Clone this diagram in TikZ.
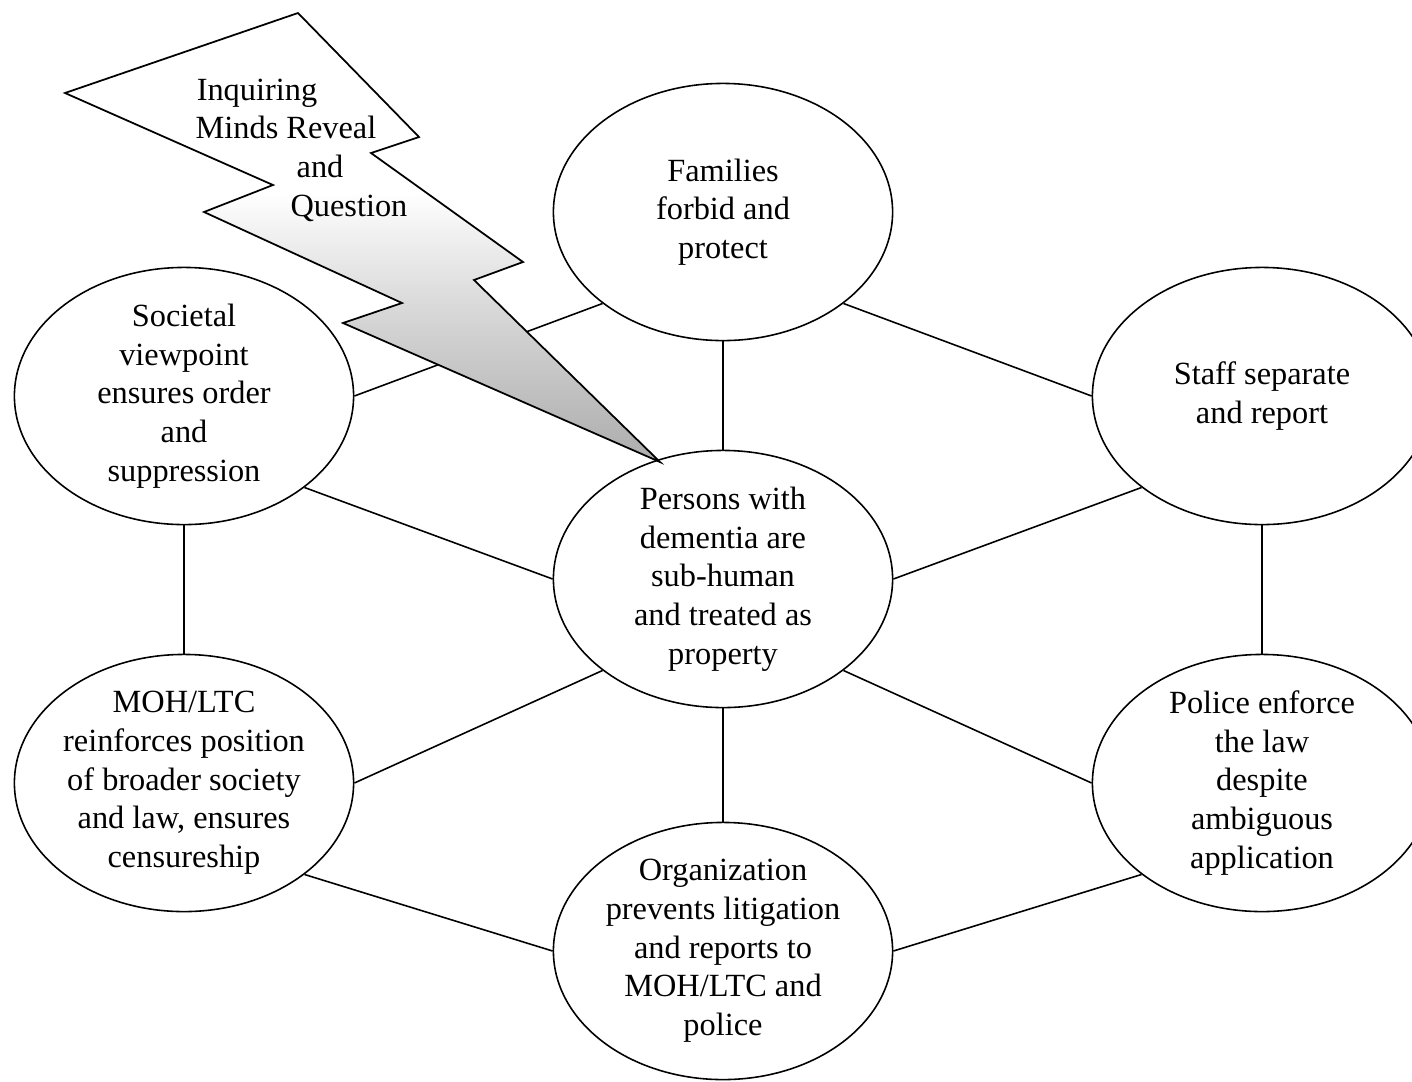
\documentclass[tikz,border=0pt]{standalone}
\usepackage{fontspec}
\setmainfont{Liberation Serif}
\usetikzlibrary{shapes.geometric}
\pgfdeclareverticalshading{boltshade}{100bp}{color(0bp)=(gray!65); color(25bp)=(gray!65); color(40bp)=(gray!35); color(51bp)=(gray!10); color(55bp)=(white); color(100bp)=(white)}
\tikzset{
    bubble/.style={draw, ellipse, line width=0.45pt, minimum width=3.39cm, minimum height=2.57cm,
                   inner sep=-12pt, align=center, font=\fontsize{9.2}{11}\selectfont},
    link/.style={line width=0.45pt},
    bolt/.style={draw, line width=0.5pt, shade, shading=boltshade},
    boltlabel/.style={anchor=base, inner sep=0pt, font=\fontsize{9.2}{11}\selectfont},
}

\begin{document}
\begin{tikzpicture}[x=0.01cm, y=-0.01cm]
    \useasboundingbox (0,0) rectangle (1412,1081);
    \clip (0,0) rectangle (1412,1081);

    % Ellipses
    \node[bubble] (fam) at (723,212) {Families\\forbid and\\protect};
    \node[bubble] (soc) at (184,396) {Societal\\viewpoint\\ensures order\\and\\suppression};
    \node[bubble] (staff) at (1262,396) {Staff separate\\and report};
    \node[bubble] (core) at (723,579) {Persons with\\dementia are\\sub-human\\and treated as\\property};
    \node[bubble] (moh) at (184,783) {MOH/LTC\\reinforces position\\of broader society\\and law, ensures\\censureship};
    \node[bubble] (police) at (1262,783) {Police enforce\\the law\\despite\\ambiguous\\application};
    \node[bubble] (org) at (723,951) {Organization\\prevents litigation\\and reports to\\MOH/LTC and\\police};

    % Connectors
    \draw[link] (fam.south) -- (core.north);
    \draw[link] (fam.south west) -- (soc.east);
    \draw[link] (fam.south east) -- (staff.west);
    \draw[link] (soc.south east) -- (core.west);
    \draw[link] (staff.south west) -- (core.east);
    \draw[link] (soc.south) -- (moh.north);
    \draw[link] (staff.south) -- (police.north);
    \draw[link] (core.south west) -- (moh.east);
    \draw[link] (core.south east) -- (police.west);
    \draw[link] (core.south) -- (org.north);
    \draw[link] (moh.south east) -- (org.west);
    \draw[link] (police.south west) -- (org.east);

    % Lightning bolt
    \path[bolt] (298,13) -- (419,137) -- (371,153) -- (523,262) -- (474,280) -- (660,462)
        -- (343,323) -- (402,303) -- (204,212) -- (273,185) -- (65,93) -- cycle;
    \foreach \txt/\x/\y [count=\i] in {Inquiring/257/100, Minds Reveal/286/138, and/320/177, Question/349/216}
        \node[boltlabel] (ask\i) at (\x,\y) {\txt};
\end{tikzpicture}
\end{document}
